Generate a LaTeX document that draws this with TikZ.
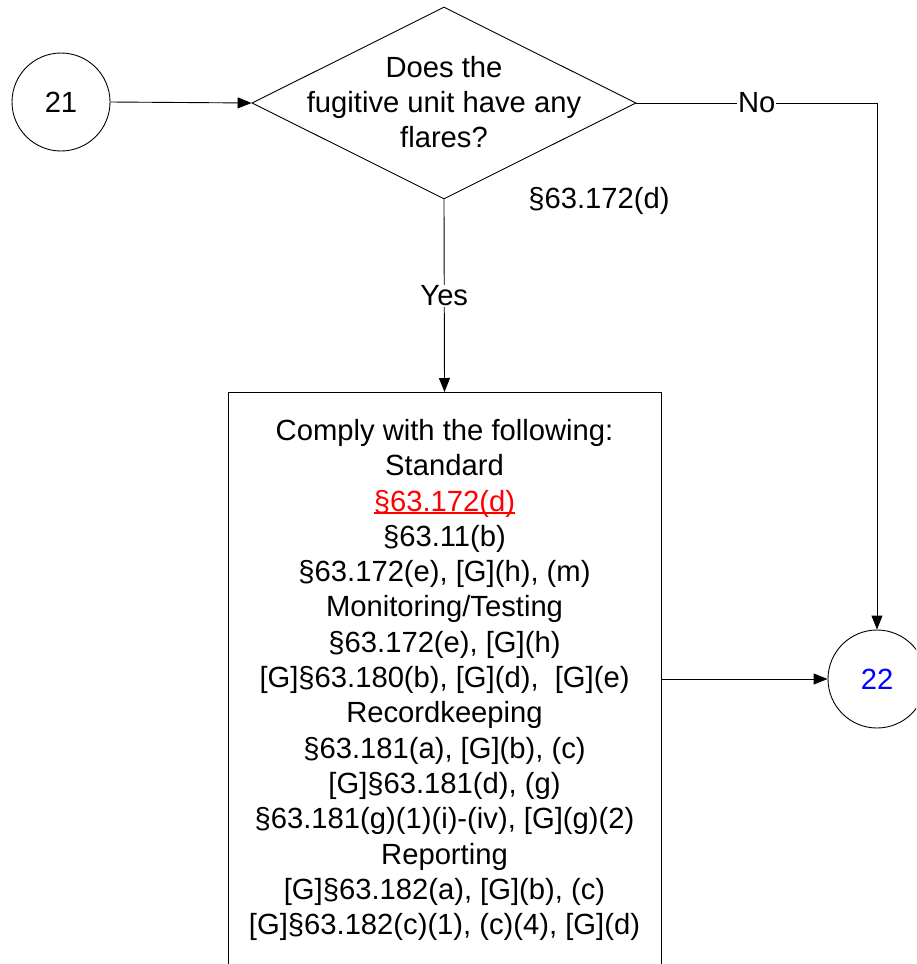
\documentclass[tikz,border=0pt]{standalone}
\usepackage{fontspec}
\setmainfont{Liberation Sans}
\usetikzlibrary{shapes.geometric,arrows.meta}
\definecolor{linkred}{RGB}{255,0,0}
\definecolor{numblue}{RGB}{0,0,255}
\newlength\myulw
\newcommand\myul[1]{\settowidth{\myulw}{#1}#1\llap{\rule[-2.5pt]{\myulw}{1.1pt}}}
\begin{document}
\begin{tikzpicture}[x=1pt,y=-1pt,
  every node/.style={font=\fontsize{29.2}{35.3}\selectfont},
  conn/.style={draw=black,line width=0.9pt,-{Triangle[length=14pt,width=11pt]}},
  offpage/.style={circle,draw=black,line width=0.9pt,minimum size=98pt,inner sep=0pt},
  decision/.style={diamond,draw=black,line width=0.9pt,minimum width=384pt,minimum height=192pt,inner sep=0pt,shape aspect=2},
  stepbox/.style={rectangle,draw=black,line width=0.9pt,minimum width=433pt,minimum height=620pt,inner sep=0pt},
  lbl/.style={fill=white,inner sep=1pt}]
\clip (0,0) rectangle (916,964);
\useasboundingbox (0,0) rectangle (916,964);

\node[offpage] (c21) at (61,102) {21};
\node[decision] (dia) at (444,103) {};
\node[align=center] (diatext) at (444,102) {Does the\\fugitive unit have any\\flares?};
\node[offpage,text=numblue] (c22) at (877,679) {22};
\node[stepbox,anchor=north] (box) at (444.5,392) {};
\node[align=center] (boxtext) at (444.5,680) {Comply with the following:\\
Standard\\
{\color{linkred}\myul{§63.172(d)}}\\
§63.11(b)\\
§63.172(e), {[G]}(h), (m)\\
Monitoring/Testing\\
§63.172(e), {[G]}(h)\\
{[G]}§63.180(b), {[G]}(d),\ \ {[G]}(e)\\
Recordkeeping\\
§63.181(a), {[G]}(b), (c)\\
{[G]}§63.181(d), (g)\\
§63.181(g)(1)(i)-(iv), {[G]}(g)(2)\\
Reporting\\
{[G]}§63.182(a), {[G]}(b), (c)\\
{[G]}§63.182(c)(1), (c)(4), {[G]}(d)};
\node (ref) at (599,201) {§63.172(d)};

\draw[conn] (c21.east) -- (dia.west);
\draw[conn] (dia.east) -| node[pos=0.25,lbl] (no) {No} (c22.north);
\draw[conn] (dia.south) -- node[lbl] (yes) {Yes} (box.north);
\draw[conn] (box.east |- c22.west) -- (c22.west);
\end{tikzpicture}
\end{document}
